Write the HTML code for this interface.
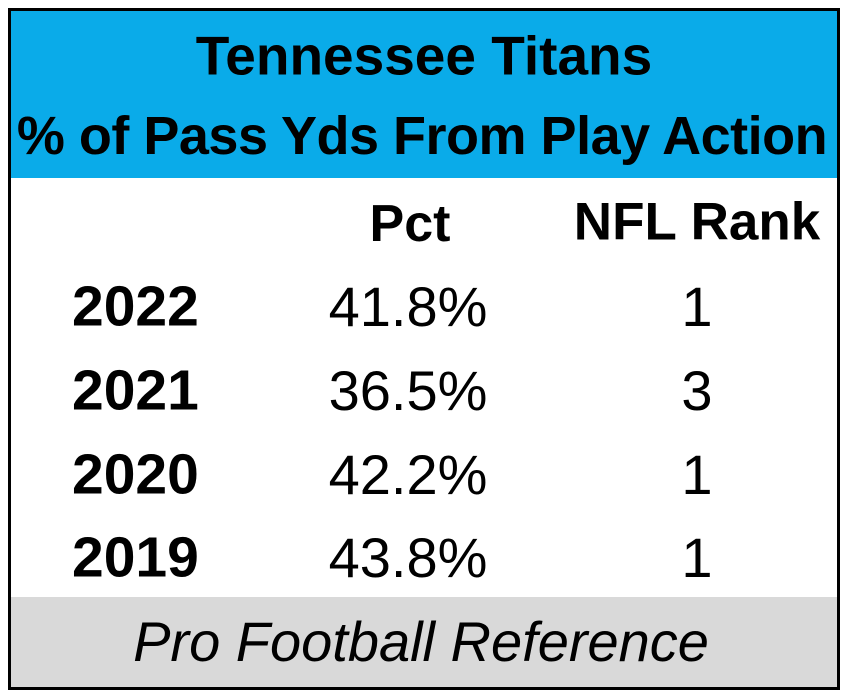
<!DOCTYPE html>
<html><head><meta charset="utf-8"><style>
*{margin:0;padding:0;box-sizing:border-box}
body{width:848px;height:698px;background:#fff;position:relative;overflow:hidden;font-family:"Liberation Sans",sans-serif;color:#000}
.frame{position:absolute;left:8px;top:8px;width:832px;height:682px;border:3px solid #000}
.hdr{position:absolute;left:11px;top:11px;width:826px;height:167px;background:#0aabe9}
.ftr{position:absolute;left:11px;top:597px;width:826px;height:90px;background:#d9d9d9}
.t{position:absolute;white-space:nowrap;line-height:1;transform:translate(-50%,-50%)}
.b{font-weight:bold}
.l{transform:translate(0,-50%)}
</style></head><body>
<div class="hdr"></div>
<div class="ftr"></div>
<div class="frame"></div>
<div class="t b" style="left:424px;top:56px;font-size:55px">Tennessee Titans</div>
<div class="t b" style="left:422px;top:136px;font-size:54px;letter-spacing:-0.5px">% of Pass Yds From Play Action</div>
<div class="t b" style="left:410px;top:224px;font-size:52px">Pct</div>
<div class="t b" style="left:697px;top:222px;font-size:53px">NFL Rank</div>
<div class="t b l" style="left:72px;top:307px;font-size:57px">2022</div>
<div class="t" style="left:408px;top:307px;font-size:56px">41.8%</div>
<div class="t" style="left:697px;top:307px;font-size:56px">1</div>
<div class="t b l" style="left:72px;top:391px;font-size:57px">2021</div>
<div class="t" style="left:408px;top:391px;font-size:56px">36.5%</div>
<div class="t" style="left:697px;top:391px;font-size:56px">3</div>
<div class="t b l" style="left:72px;top:475px;font-size:57px">2020</div>
<div class="t" style="left:408px;top:475px;font-size:56px">42.2%</div>
<div class="t" style="left:697px;top:475px;font-size:56px">1</div>
<div class="t b l" style="left:72px;top:558px;font-size:57px">2019</div>
<div class="t" style="left:408px;top:558px;font-size:56px">43.8%</div>
<div class="t" style="left:697px;top:558px;font-size:56px">1</div>
<div class="t" style="left:421px;top:642px;font-size:56px;font-style:italic">Pro Football Reference</div>
</body></html>
